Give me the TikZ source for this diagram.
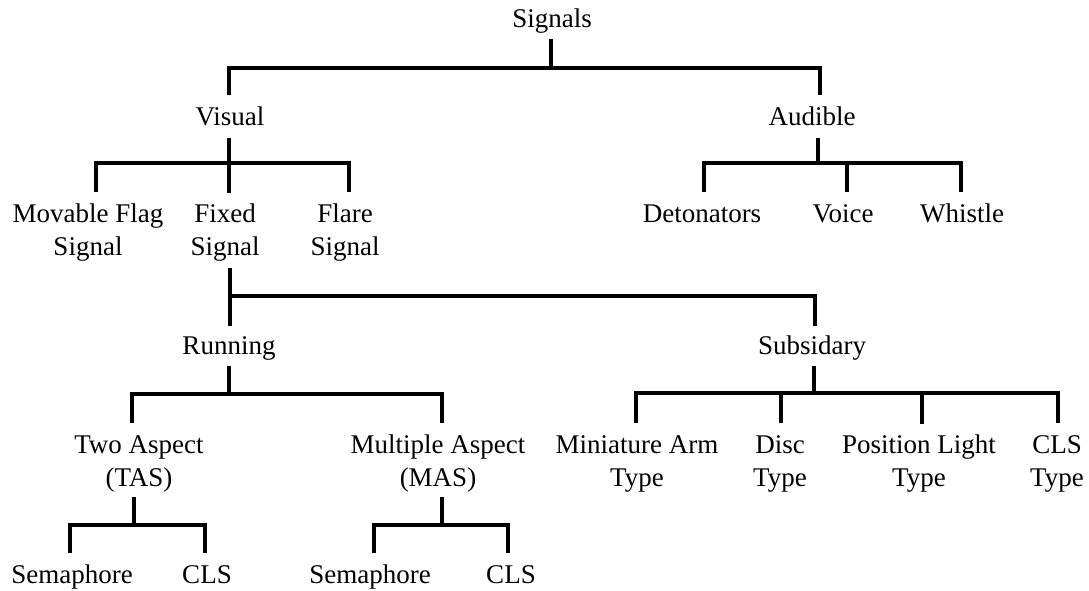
\documentclass[tikz,border=0pt]{standalone}
\usepackage{fontspec}
\setmainfont{Liberation Serif}
\begin{document}
\begin{tikzpicture}[x=1pt,y=-1pt,
  lbl/.style={font=\fontsize{27}{33}\selectfont, inner sep=0pt, anchor=base, align=center},
  ln/.style={line width=3.2pt, line join=miter}]
\useasboundingbox (0,0) rectangle (1089,590);
% labels (anchor = baseline of last line)
\node[lbl] (sig) at (552,27) {Signals};
\node[lbl] (vis) at (230,125) {Visual};
\node[lbl] (aud) at (812,125) {Audible};
\node[lbl] (mov) at (88,255) {Movable Flag\\Signal};
\node[lbl] (fix) at (225,255) {Fixed\\Signal};
\node[lbl] (fla) at (345,255) {Flare\\Signal};
\node[lbl] (det) at (702,222) {Detonators};
\node[lbl] (voi) at (843,222) {Voice};
\node[lbl] (whi) at (962,222) {Whistle};
\node[lbl] (run) at (229,354) {Running};
\node[lbl] (sub) at (812,354) {Subsidary};
\node[lbl] (tas) at (139,486) {Two Aspect\\(TAS)};
\node[lbl] (mas) at (438,486) {Multiple Aspect\\(MAS)};
\node[lbl] (min) at (637,486) {Miniature Arm\\Type};
\node[lbl] (dis) at (780,486) {Disc\\Type};
\node[lbl] (pos) at (919,486) {Position Light\\Type};
\node[lbl] (clt) at (1057,486) {CLS\\Type};
\node[lbl] (se1) at (72,583) {Semaphore};
\node[lbl] (cl1) at (207,583) {CLS};
\node[lbl] (se2) at (370,583) {Semaphore};
\node[lbl] (cl2) at (511,583) {CLS};
% connector points
\coordinate (sigB) at (551,39);  \coordinate (sigJ) at (551,68);
\coordinate (visJ) at (229,68);  \coordinate (visT) at (229,95);
\coordinate (audJ) at (820,68);  \coordinate (audT) at (820,95);
\coordinate (visB) at (229,138); \coordinate (visK) at (229,163);
\coordinate (movJ) at (96,163);  \coordinate (movT) at (96,192);
\coordinate (fixT) at (229,193);
\coordinate (flaJ) at (349,163); \coordinate (flaT) at (349,192);
\coordinate (audB) at (818,138); \coordinate (audK) at (818,163);
\coordinate (detJ) at (704,163); \coordinate (detT) at (704,192);
\coordinate (voiJ) at (847,163); \coordinate (voiT) at (847,192);
\coordinate (whiJ) at (961,163); \coordinate (whiT) at (961,192);
\coordinate (fixB) at (230,268); \coordinate (fixK) at (230,296);
\coordinate (runT) at (230,326);
\coordinate (subJ) at (815,296); \coordinate (subT) at (815,326);
\coordinate (runB) at (229,366); \coordinate (runK) at (229,394);
\coordinate (tasJ) at (132,394); \coordinate (tasT) at (132,423);
\coordinate (masJ) at (442,394); \coordinate (masT) at (442,423);
\coordinate (subB) at (814,366); \coordinate (subK) at (814,393);
\coordinate (minJ) at (636,393); \coordinate (minT) at (636,423);
\coordinate (disJ) at (781,393); \coordinate (disT) at (781,423);
\coordinate (posJ) at (922,393); \coordinate (posT) at (922,424);
\coordinate (cltJ) at (1058,393);\coordinate (cltT) at (1058,423);
\coordinate (tasB) at (134,497); \coordinate (tasK) at (134,525);
\coordinate (se1J) at (70,525);  \coordinate (se1T) at (70,553);
\coordinate (cl1J) at (205,525); \coordinate (cl1T) at (205,553);
\coordinate (masB) at (442,497); \coordinate (masK) at (442,525);
\coordinate (se2J) at (374,525); \coordinate (se2T) at (374,553);
\coordinate (cl2J) at (508,525); \coordinate (cl2T) at (508,553);
% connectors
\draw[ln] (sigB) -- (sigJ);
\draw[ln] (visT) -- (visJ) -- (audJ) -- (audT);
\draw[ln] (visB) -- (visK);
\draw[ln] (movT) -- (movJ) -- (flaJ) -- (flaT);
\draw[ln] (visK) -- (fixT);
\draw[ln] (audB) -- (audK);
\draw[ln] (detT) -- (detJ) -- (whiJ) -- (whiT);
\draw[ln] (voiJ) -- (voiT);
\draw[ln] (fixB) -- (runT);
\draw[ln] (fixK) -- (subJ) -- (subT);
\draw[ln] (runB) -- (runK);
\draw[ln] (tasT) -- (tasJ) -- (masJ) -- (masT);
\draw[ln] (subB) -- (subK);
\draw[ln] (minT) -- (minJ) -- (cltJ) -- (cltT);
\draw[ln] (disJ) -- (disT);
\draw[ln] (posJ) -- (posT);
\draw[ln] (tasB) -- (tasK);
\draw[ln] (se1T) -- (se1J) -- (cl1J) -- (cl1T);
\draw[ln] (masB) -- (masK);
\draw[ln] (se2T) -- (se2J) -- (cl2J) -- (cl2T);
\end{tikzpicture}
\end{document}
